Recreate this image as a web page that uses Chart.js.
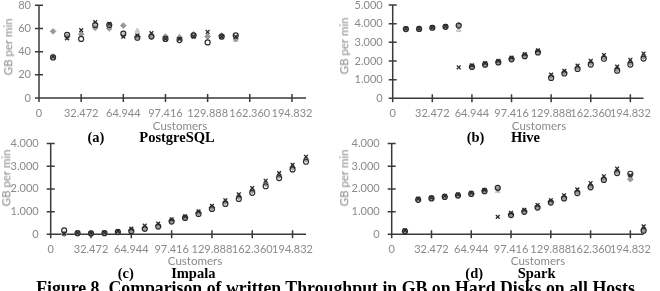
<!DOCTYPE html>
<html><head><meta charset="utf-8">
<script src="https://cdn.jsdelivr.net/npm/chart.js@4.4.1/dist/chart.umd.min.js"></script>
<style>
html,body{margin:0;padding:0;background:#fff;}
body{width:660px;height:291px;position:relative;overflow:hidden;}
canvas{position:absolute;}
.t{position:absolute;white-space:nowrap;line-height:1;}
.ax{font-family:Lato,sans-serif;font-size:11.5px;color:#8a8a8a;}
.cap{font-family:"Liberation Serif",serif;font-weight:bold;font-size:14.5px;color:#000;}
.fig{font-family:"Liberation Serif",serif;font-weight:bold;font-size:17.8px;color:#000;}
</style></head><body>
<script>
// ---------- data ----------
const customers = [10824, 21648, 32472, 43296, 54120, 64944, 75768, 86592, 97416, 108240,
                   119064, 129888, 140712, 151536, 162360, 173184, 184008, 194832, 205656];
const xTickValues = [0, 32472, 64944, 97416, 129888, 162360, 194832];
const xTickLabels = ['0', '32.472', '64.944', '97.416', '129.888', '162.360', '194.832'];
const xAxisMax = 205656;

const seriesNames = ['Run 1', 'Run 2', 'Run 3', 'Run 4'];

// (a) PostgreSQL
const pgCircle   = [35, 54.5, 51, 63, 63, 55.5, 52, 53, 51, 50, 54, 48, 53, 54];
const pgCross    = [35.5, 51.5, 58.5, 65.5, 64, 53, 54, 56, 51, 51, 53, 57, 53, 53];
const pgDiamond  = [57.5, 53, 55, 60.5, 60, 62.5, 53, 53, 53, 52, 55, 53, 54, 51];
const pgTriangle = [36, 52, 56, 62, 61, 55, 58, 54, 52, 53, 55, 54, 52, 50];
const pgYTicks  = [0, 20, 40, 60, 80];
const pgYLabels = ['0', '20', '40', '60', '80'];

// (b) Hive
const hvCircle   = [3710, 3720, 3780, 3830, 3900, 1680, 1800, 1920, 2090, 2260, 2460, 1090, 1330, 1570, 1810, 2120, 1480, 1810, 2130];
const hvCross    = [3740, 3740, 3800, 3860, 1660, 1760, 1880, 2010, 2180, 2370, 2570, 1270, 1470, 1750, 2000, 2320, 1700, 2060, 2400];
const hvDiamond  = [3720, 3730, 3790, 3840, 3920, 1710, 1840, 1950, 2120, 2300, 2500, 1170, 1390, 1640, 1900, 2200, 1560, 1900, 2230];
const hvTriangle = [3700, 3710, 3770, 3820, 3650, 1700, 1830, 1960, 2130, 2310, 2520, 1200, 1420, 1680, 1950, 2250, 1620, 1960, 2300];
const hvYTicks  = [0, 1000, 2000, 3000, 4000, 5000];
const hvYLabels = ['0', '1.000', '2.000', '3.000', '4.000', '5.000'];

// (c) Impala
const imCircle   = [170, 50, 40, 50, 100, 140, 240, 340, 560, 720, 900, 1120, 1340, 1560, 1830, 2120, 2480, 2860, 3200];
const imCross    = [30, 60, 50, 70, 140, 250, 380, 470, 660, 790, 1010, 1250, 1500, 1760, 2040, 2360, 2700, 3060, 3420];
const imDiamond  = [20, 40, 40, 50, 110, 180, 280, 380, 600, 750, 950, 1180, 1420, 1650, 1920, 2220, 2580, 2950, 3300];
const imTriangle = [40, 50, 50, 60, 120, 200, 300, 420, 630, 770, 980, 1210, 1460, 1700, 1980, 2290, 2630, 3010, 3360];
const imYTicks  = [0, 1000, 2000, 3000, 4000];
const imYLabels = ['0', '1.000', '2.000', '3.000', '4.000'];

// (d) Spark
const spCircle   = [130, 1520, 1580, 1650, 1710, 1780, 1900, 2050, 850, 990, 1180, 1400, 1580, 1820, 2070, 2400, 2700, 2670, 160];
const spCross    = [170, 1570, 1620, 1690, 1760, 1830, 1960, 770, 950, 1080, 1290, 1500, 1720, 1980, 2260, 2560, 2900, 2600, 350];
const spDiamond  = [140, 1540, 1600, 1670, 1730, 1800, 1930, 2000, 880, 1020, 1220, 1440, 1620, 1880, 2120, 2450, 2770, 2430, 200];
const spTriangle = [150, 1550, 1610, 1680, 1740, 1810, 1940, 1900, 900, 1050, 1250, 1460, 1660, 1920, 2180, 2500, 2820, 2450, 250];
const spYTicks  = [0, 1000, 2000, 3000, 4000];
const spYLabels = ['0', '1.000', '2.000', '3.000', '4.000'];

const panelLetters = ['(a)', '(b)', '(c)', '(d)'];
const panelNames = ['PostgreSQL', 'Hive', 'Impala', 'Spark'];
const xTitle = 'Customers';
const yTitle = 'GB per min';
const figureCaption = 'Figure 8. Comparison of written Throughput in GB on Hard Disks on all Hosts';

// ---------- layout ----------
const panels = [
  {series:[pgCross, pgCircle, pgDiamond, pgTriangle], yTicks:pgYTicks, yLabels:pgYLabels, yMax:80,
   canvas:[0,-15,330,135], area:[39,5.3,306,98], yPad:8, xTitleAt:[180,125.5], yTitleAt:[8,46.5],
   capAt:[[96,137],[177,137]]},
  {series:[hvCross, hvCircle, hvDiamond, hvTriangle], yTicks:hvYTicks, yLabels:hvYLabels, yMax:5000,
   canvas:[330,-15,330,135], area:[392.7,5,646.7,98.3], yPad:10, xTitleAt:[539,125.5], yTitleAt:[344,46],
   capAt:[[475.5,137],[525.5,137]]},
  {series:[imCross, imCircle, imDiamond, imTriangle], yTicks:imYTicks, yLabels:imYLabels, yMax:4000,
   canvas:[0,125,330,130], area:[50.7,141,306,234.3], yPad:12, xTitleAt:[195,260.5], yTitleAt:[6,178],
   capAt:[[125.7,273],[193.3,273]]},
  {series:[spCross, spCircle, spDiamond, spTriangle], yTicks:spYTicks, yLabels:spYLabels, yMax:4000,
   canvas:[330,125,330,130], area:[391.7,141,646.7,234.3], yPad:12, xTitleAt:[538,260.5], yTitleAt:[344,178],
   capAt:[[474.2,273],[536.7,273]]}
];

const markerStyles = [
  {pointStyle:'crossRot', radius:2.7, borderColor:'#2a2a2a', backgroundColor:'#2a2a2a', borderWidth:1.3},
  {pointStyle:'circle', radius:2.5, borderColor:'#2a2a2a', backgroundColor:'rgba(255,255,255,0)', borderWidth:1.2},
  {pointStyle:'rectRot', radius:2.8, borderColor:'#999999', backgroundColor:'#999999', borderWidth:1},
  {pointStyle:'triangle', radius:2.8, borderColor:'#c4c4c4', backgroundColor:'#cdcdcd', borderWidth:1}
];

const crossAxes = {
  id:'crossAxes',
  beforeDatasetsDraw(chart){
    const {ctx, chartArea:{left,right,top,bottom}, scales:{x,y}} = chart;
    ctx.save();
    ctx.strokeStyle = '#3a3a3a';
    ctx.lineWidth = 1.5;
    ctx.beginPath();
    ctx.moveTo(left, bottom); ctx.lineTo(right, bottom);
    ctx.moveTo(left, top); ctx.lineTo(left, bottom);
    x.ticks.forEach(t => { const p = x.getPixelForValue(t.value); ctx.moveTo(p, bottom-4); ctx.lineTo(p, bottom+4); });
    y.ticks.forEach(t => { const p = y.getPixelForValue(t.value); ctx.moveTo(left-4, p); ctx.lineTo(left+4, p); });
    ctx.stroke();
    ctx.restore();
  }
};

function addText(cls, text, cx, cy, rot){
  const d = document.createElement('div');
  d.className = 't ' + cls;
  d.textContent = text;
  d.style.left = cx + 'px';
  d.style.top = cy + 'px';
  d.style.transform = 'translate(-50%,-50%)' + (rot ? ' rotate(' + rot + 'deg)' : '');
  document.body.appendChild(d);
  return d;
}

const tickFont = {family:'Lato', size:11};
const tickColor = '#8a8a8a';

panels.forEach((p, idx) => {
  const [cl, ct, cw, ch] = p.canvas;
  const [L, T, R, B] = p.area;
  const cv = document.createElement('canvas');
  cv.width = cw; cv.height = ch;
  cv.style.left = cl + 'px'; cv.style.top = ct + 'px';
  cv.style.width = cw + 'px'; cv.style.height = ch + 'px';
  document.body.appendChild(cv);

  const datasets = p.series.map((vals, i) => Object.assign({
    label: seriesNames[i],
    data: vals.map((v, k) => ({x: customers[k], y: v})),
    showLine:false, clip:false
  }, markerStyles[i]));

  new Chart(cv, {
    type:'scatter',
    data:{datasets},
    options:{
      responsive:false, animation:false, devicePixelRatio:1,
      layout:{padding:{left:0, top:T-ct, right:cl+cw-R, bottom:0}},
      plugins:{legend:{display:false}, tooltip:{enabled:false}},
      scales:{
        x:{type:'linear', min:0, max:xAxisMax,
           afterBuildTicks: s => { s.ticks = xTickValues.map(v => ({value:v})); },
           afterFit: s => { s.height = ct + ch - B; },
           grid:{display:false, drawTicks:false}, border:{display:false},
           ticks:{autoSkip:false, maxRotation:0, minRotation:0, padding:8.5, color:tickColor, font:tickFont,
                  callback: v => { const i = xTickValues.indexOf(v); return i >= 0 ? xTickLabels[i] : ''; }}},
        y:{type:'linear', min:0, max:p.yMax,
           afterBuildTicks: s => { s.ticks = p.yTicks.map(v => ({value:v})); },
           afterFit: s => { s.width = L - cl; },
           grid:{display:false, drawTicks:false}, border:{display:false},
           ticks:{padding:p.yPad, color:tickColor, font:tickFont,
                  callback: v => { const i = p.yTicks.indexOf(v); return i >= 0 ? p.yLabels[i] : ''; }}}
      }
    },
    plugins:[crossAxes]
  });

  addText('ax', xTitle, p.xTitleAt[0], p.xTitleAt[1]);
  addText('ax', yTitle, p.yTitleAt[0], p.yTitleAt[1], -90);
  addText('cap', panelLetters[idx], p.capAt[0][0], p.capAt[0][1]);
  addText('cap', panelNames[idx], p.capAt[1][0], p.capAt[1][1]);
});

const fig = addText('fig', figureCaption, 335.5, 289);
const w = fig.offsetWidth;
fig.style.transform = 'translate(-50%,-50%) scaleX(' + (599 / w) + ')';
</script>
</body></html>
